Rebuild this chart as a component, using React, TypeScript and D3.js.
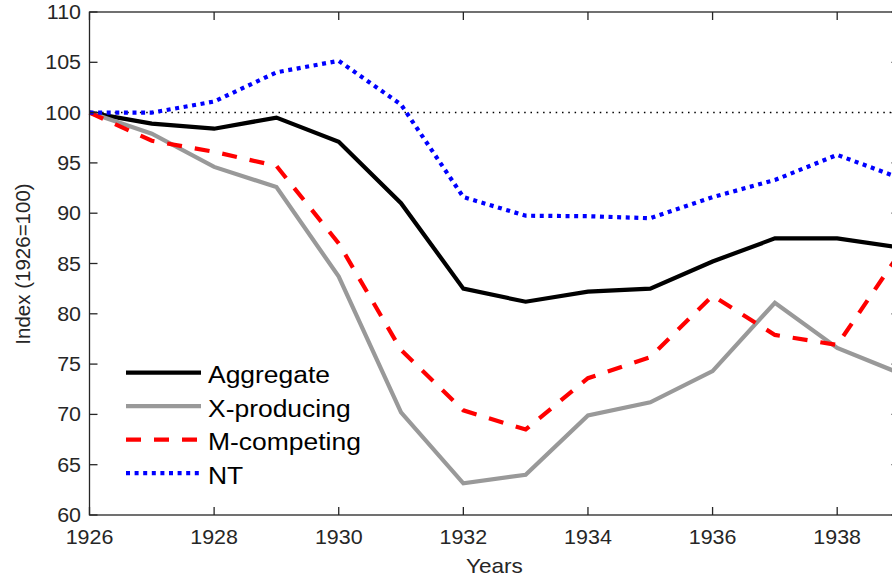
import React, { useRef, useEffect } from 'react';
import * as d3 from 'd3';

const years = [1926, 1927, 1928, 1929, 1930, 1931, 1932, 1933, 1934, 1935, 1936, 1937, 1938, 1939];
const aggregate = [100, 98.9, 98.4, 99.5, 97.1, 91.0, 82.5, 81.2, 82.2, 82.5, 85.2, 87.5, 87.5, 86.6];
const xProducing = [100, 97.9, 94.6, 92.6, 83.7, 70.2, 63.15, 64.0, 69.9, 71.2, 74.3, 81.1, 76.6, 74.1];
const mCompeting = [100, 97.2, 96.1, 94.7, 87.0, 76.4, 70.4, 68.5, 73.6, 75.7, 81.8, 77.9, 76.9, 86.0];
const nt = [100, 100.0, 101.1, 104.0, 105.15, 100.8, 91.6, 89.75, 89.7, 89.5, 91.6, 93.3, 95.8, 93.5];

const xTicks = [1926, 1928, 1930, 1932, 1934, 1936, 1938];
const yTicks = [60, 65, 70, 75, 80, 85, 90, 95, 100, 105, 110];

const seriesList = [
  { name: 'Aggregate', values: aggregate, color: '#000000', dash: null },
  { name: 'X-producing', values: xProducing, color: '#999999', dash: null },
  { name: 'M-competing', values: mCompeting, color: '#ff0000', dash: '15,13' },
  { name: 'NT', values: nt, color: '#0000ff', dash: '4,4.6' },
];

const FONT = '"Liberation Sans", Arial, Helvetica, sans-serif';
const AXIS = '#262626';
const SX = 1.1; // horizontal stretch of the text

const Chart: React.FC = () => {
  const ref = useRef<SVGSVGElement>(null);

  useEffect(() => {
    const svg = d3.select(ref.current);
    svg.selectAll('*').remove();

    const left = 89.5, right = 899.5, top = 12, bottom = 515;
    const x = d3.scaleLinear().domain([1926, 1939]).range([left, right]);
    const y = d3.scaleLinear().domain([60, 110]).range([bottom, top]);

    // reference line at 100
    svg.append('line')
      .attr('x1', left).attr('x2', right)
      .attr('y1', y(100)).attr('y2', y(100))
      .attr('stroke', '#000').attr('stroke-width', 1.5)
      .attr('stroke-dasharray', '1.5,4.8');

    const line = d3.line<number>()
      .x((d, i) => x(years[i]))
      .y(d => y(d));

    const plot = svg.append('g');
    seriesList.forEach(s => {
      plot.append('path')
        .datum(s.values)
        .attr('d', line)
        .attr('fill', 'none')
        .attr('stroke', s.color)
        .attr('stroke-width', 4.2)
        .attr('stroke-linejoin', 'miter')
        .attr('stroke-dasharray', s.dash);
    });

    // axes box
    const ax = svg.append('g').attr('stroke', AXIS).attr('stroke-width', 1.3).attr('fill', 'none');
    ax.append('rect').attr('x', left).attr('y', top).attr('width', right - left).attr('height', bottom - top);

    const tl = 8;
    xTicks.forEach(t => {
      ax.append('line').attr('x1', x(t)).attr('x2', x(t)).attr('y1', bottom).attr('y2', bottom - tl);
      ax.append('line').attr('x1', x(t)).attr('x2', x(t)).attr('y1', top).attr('y2', top + tl);
    });
    yTicks.forEach(t => {
      ax.append('line').attr('x1', left).attr('x2', left + tl).attr('y1', y(t)).attr('y2', y(t));
      ax.append('line').attr('x1', right).attr('x2', right - tl).attr('y1', y(t)).attr('y2', y(t));
    });

    const txt = svg.append('g').attr('font-family', FONT).attr('fill', AXIS);

    xTicks.forEach(t => {
      txt.append('text')
        .attr('transform', `translate(${x(t)},544) scale(${SX},1)`)
        .attr('text-anchor', 'middle')
        .attr('font-size', 19.5)
        .text(String(t));
    });
    yTicks.forEach(t => {
      txt.append('text')
        .attr('transform', `translate(81,${y(t) + 7}) scale(${SX},1)`)
        .attr('text-anchor', 'end')
        .attr('font-size', 19.5)
        .text(String(t));
    });

    txt.append('text')
      .attr('transform', `translate(${(left + right) / 2},573) scale(${SX},1)`)
      .attr('text-anchor', 'middle')
      .attr('font-size', 20.5)
      .text('Years');

    txt.append('text')
      .attr('transform', `translate(30,264) rotate(-90)`)
      .attr('text-anchor', 'middle')
      .attr('font-size', 20.5)
      .text('Index (1926=100)');

    // legend
    const lg = svg.append('g');
    seriesList.forEach((s, i) => {
      const ly = 372.7 + i * 33.5;
      lg.append('line')
        .attr('x1', 126).attr('x2', 201)
        .attr('y1', ly).attr('y2', ly)
        .attr('stroke', s.color)
        .attr('stroke-width', 4.2)
        .attr('stroke-dasharray', s.dash);
      lg.append('text')
        .attr('transform', `translate(208,${ly + 10.6}) scale(1.08,1)`)
        .attr('font-family', FONT)
        .attr('font-size', 24.5)
        .attr('fill', '#000')
        .text(s.name);
    });
  }, []);

  return (
    <svg
      ref={ref}
      width={892}
      height={581}
      style={{ position: 'absolute', left: 0, top: 0, background: '#fff' }}
    />
  );
};

export default function App() {
  return <Chart />;
}
